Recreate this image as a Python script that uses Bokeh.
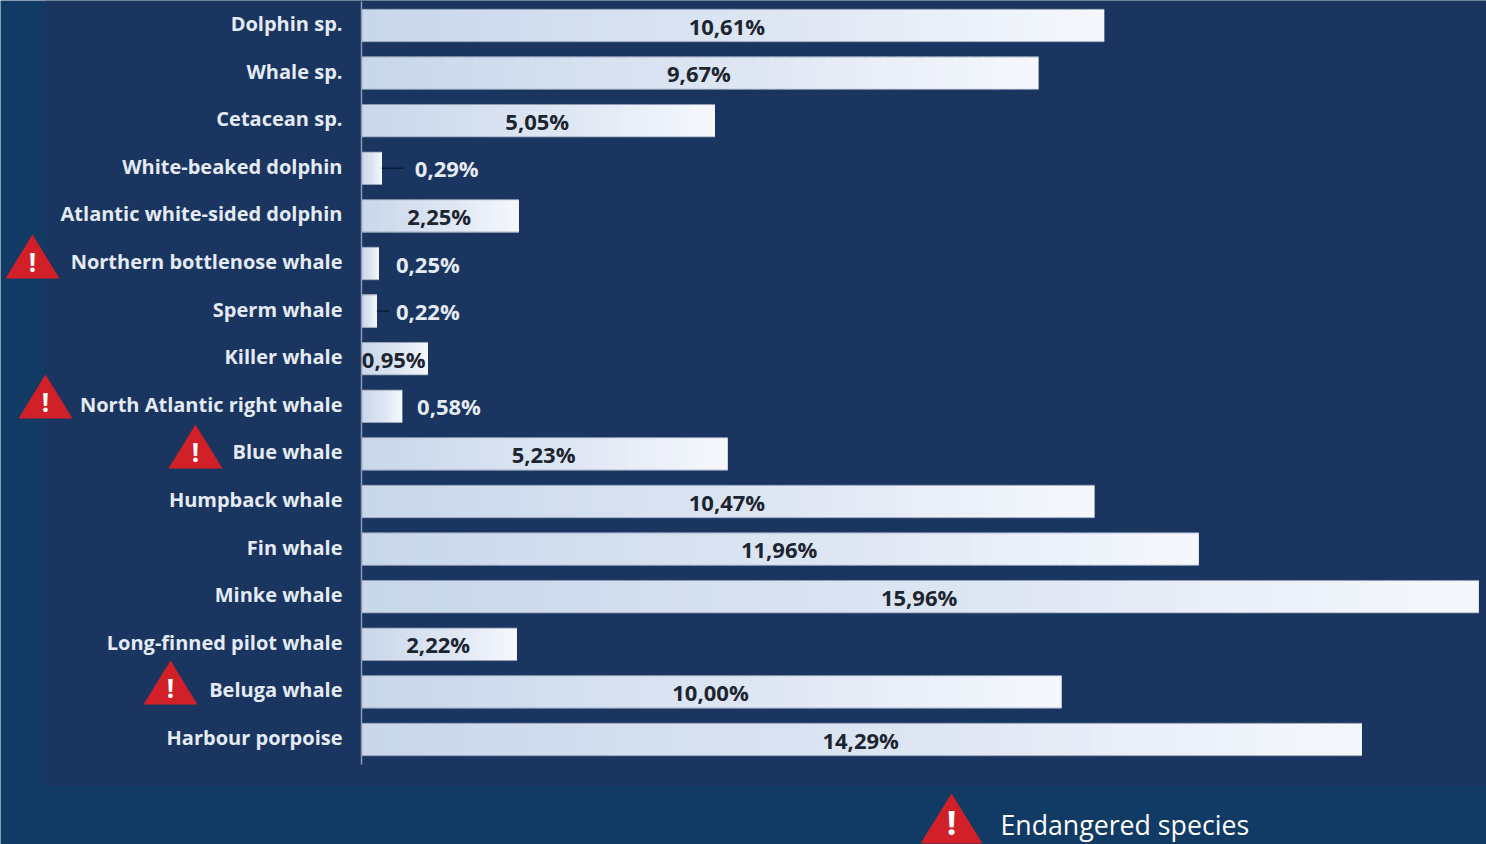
from bokeh.embed import file_html
from bokeh.resources import INLINE
from bokeh.plotting import figure
from bokeh.models import BoxAnnotation, ColumnDataSource, FixedTicker, Range1d
from bokeh.core.properties import value

species = ["Dolphin sp.", "Whale sp.", "Cetacean sp.", "White-beaked dolphin",
           "Atlantic white-sided dolphin", "Northern bottlenose whale", "Sperm whale",
           "Killer whale", "North Atlantic right whale", "Blue whale", "Humpback whale",
           "Fin whale", "Minke whale", "Long-finned pilot whale", "Beluga whale",
           "Harbour porpoise"]
share = [10.61, 9.67, 5.05, 0.29, 2.25, 0.25, 0.22, 0.95, 0.58, 5.23, 10.47, 11.96,
         15.96, 2.22, 10.00, 14.29]
endangered = ["Northern bottlenose whale", "North Atlantic right whale", "Blue whale",
              "Beluga whale"]
legend_text = "Endangered species"

# Page geometry: one percentage point is 70 px, one row is 47.6 px
W, H = 1486, 844
BASE_X, PX_PER_PCT = 362, 70
FIRST_ROW_Y, ROW_H = 24, 47.6
BAR_DROP = 2  # bars sit a little below their axis labels
FRAME_DX, FRAME_DY = 1, 1  # the plot frame starts slightly inside the page
BAR_H = 32.5
FONT = "Open Sans"


def x_at(px):
    return (px - BASE_X) / PX_PER_PCT


def row_at(px):
    return (px - FIRST_ROW_Y) / ROW_H


def fmt(v):
    return f"{v:.2f}%".replace(".", ",")


p = figure(width=W, height=H, output_backend="svg", toolbar_location=None,
           x_range=Range1d(x_at(FRAME_DX), x_at(W + FRAME_DX)),
           y_range=Range1d(row_at(H + FRAME_DY), row_at(FRAME_DY)),
           min_border=0, min_border_left=0, min_border_right=0, min_border_top=0,
           min_border_bottom=0, outline_line_color=None,
           background_fill_color="#113a65", border_fill_color="#113a65")
p.grid.visible = False
p.xaxis.visible = False

# Darker panel behind the chart itself (screen y counts up from the page bottom)
p.add_layout(BoxAnnotation(left=45, right=W, top=H, bottom=H - 785,
                           left_units="screen", right_units="screen",
                           top_units="screen", bottom_units="screen",
                           fill_color="#1a3560", fill_alpha=1, line_color=None,
                           level="underlay"))

# Species axis pinned to the zero line
axis = p.yaxis[0]
axis.fixed_location = 0
axis.ticker = FixedTicker(ticks=list(range(len(species))))
axis.major_label_overrides = {i: s for i, s in enumerate(species)}
axis.major_tick_line_color = None
axis.minor_tick_line_color = None
axis.major_label_standoff = 13
axis.major_label_text_font = FONT
axis.major_label_text_font_style = "bold"
axis.major_label_text_font_size = "20px"
axis.major_label_text_color = "#e4ebf5"
axis.axis_line_color = "#8b9ab3"
axis.axis_line_width = 1.5
axis.bounds = (row_at(2), row_at(765))


def lerp(a, b, t):
    return tuple(round(x + (y - x) * t) for x, y in zip(a, b))


def ramp(t):
    left, mid, right = (201, 215, 235), (222, 230, 243), (246, 248, 253)
    rgb = lerp(left, mid, t / 0.55) if t < 0.55 else lerp(mid, right, (t - 0.55) / 0.45)
    return "#%02x%02x%02x" % rgb


bar_shift = BAR_DROP / ROW_H
bar_y = [i + bar_shift for i in range(len(share))]

# Solid bars underneath, so the gradient steps above them never show the panel
p.hbar(y=bar_y, left=0, right=share, height=BAR_H / ROW_H, fill_color=ramp(0.5),
       line_color=None)

# Horizontal gradient from short steps, each running well into the next
STEPS = 48
OVERLAP = 2.5 / PX_PER_PCT
ys, lefts, rights, colors = [], [], [], []
for y, v in zip(bar_y, share):
    for k in range(STEPS):
        ys.append(y)
        lefts.append(v * k / STEPS)
        rights.append(min(v, v * (k + 1) / STEPS + OVERLAP))
        colors.append(ramp(k / STEPS))
p.hbar(y="y", left="left", right="right", height=BAR_H / ROW_H, fill_color="color",
       line_color=None, source=ColumnDataSource(dict(y=ys, left=lefts, right=rights, color=colors)))

# Thin grey rim along the long edges of every bar
rim = BAR_H / 2 / ROW_H
for edge in (-rim, rim):
    edge_y = [y + edge for y in bar_y]
    p.segment(x0=[0] * len(share), x1=share, y0=edge_y, y1=edge_y,
              line_color="#7f8ea8", line_width=1, line_alpha=0.8)

# Value labels: centred in the bar, or beside it when the bar is too short
outside_gap = {"White-beaked dolphin": 33, "Northern bottlenose whale": 17,
               "Sperm whale": 19, "North Atlantic right whale": 15}
leader_len = {"White-beaked dolphin": 22, "Sperm whale": 12}
label_nudge = {"Dolphin sp.": -5}

in_x, in_y, in_t, out_x, out_y, out_t, lead_x0, lead_x1, lead_y = [], [], [], [], [], [], [], [], []
for i, (s, v) in enumerate(zip(species, share)):
    if s in outside_gap:
        out_x.append(v + outside_gap[s] / PX_PER_PCT)
        out_y.append(i + bar_shift)
        out_t.append(fmt(v))
    else:
        in_x.append(v / 2 + (label_nudge.get(s, 0) - 1) / PX_PER_PCT)
        in_y.append(i + bar_shift)
        in_t.append(fmt(v))
    if s in leader_len:
        lead_x0.append(v)
        lead_x1.append(v + leader_len[s] / PX_PER_PCT)
        lead_y.append(i + bar_shift)

p.segment(lead_x0, lead_y, lead_x1, lead_y, line_color="#0c1c3c", line_width=1.5)
p.text(in_x, in_y, text=in_t, text_align="center", text_baseline="middle",
       text_font=value(FONT), text_font_style="bold", text_font_size="22px",
       text_color="#1c2530")
p.text(out_x, out_y, text=out_t, text_align="left", text_baseline="middle",
       text_font=value(FONT), text_font_style="bold", text_font_size="22px",
       text_color="#e4ebf5")

# Warning triangles beside the endangered species and in the key
RED = "#d12027"
warn_apex = {"Northern bottlenose whale": (33, 235), "North Atlantic right whale": (46, 375),
             "Blue whale": (196, 425), "Beluga whale": (171, 661)}
tri_xs, tri_ys, bang_x, bang_y = [], [], [], []
for s in endangered:
    ax, ay = warn_apex[s]
    tri_xs.append([x_at(ax), x_at(ax - 27), x_at(ax + 27)])
    tri_ys.append([row_at(ay), row_at(ay + 44), row_at(ay + 44)])
    bang_x.append(x_at(ax))
    bang_y.append(row_at(ay + 27))
p.patches(tri_xs, tri_ys, fill_color=RED, line_color=None)
p.text(bang_x, bang_y, text=["!"] * len(bang_x), text_align="center", text_baseline="middle",
       text_font=value(FONT), text_font_style="bold", text_font_size="26px",
       text_color="#ffffff")

p.patch([x_at(952), x_at(921), x_at(983)], [row_at(794), row_at(844), row_at(844)],
        fill_color=RED, line_color=None)
p.text([x_at(952)], [row_at(822)], text=["!"], text_align="center", text_baseline="middle",
       text_font=value(FONT), text_font_style="bold", text_font_size="34px",
       text_color="#ffffff")
p.text([x_at(1001)], [row_at(825)], text=[legend_text], text_align="left",
       text_baseline="middle", text_font=value(FONT), text_font_size="26.7px",
       text_color="#ffffff")

open("out.html", "w").write(file_html(p, INLINE))
